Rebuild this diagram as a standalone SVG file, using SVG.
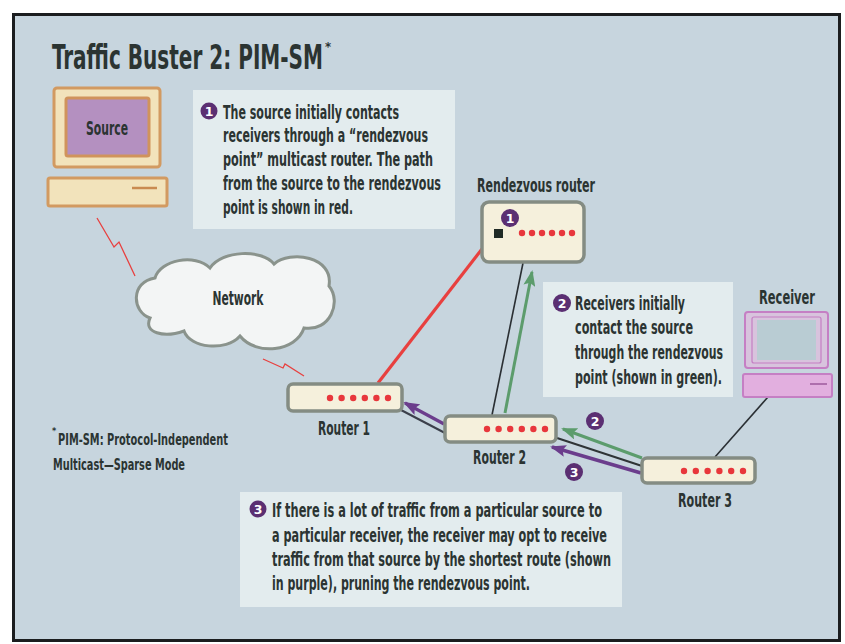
<svg xmlns="http://www.w3.org/2000/svg" width="845" height="644" viewBox="0 0 845 644">
  <defs>
    <style>
      .t { font-family: "DejaVu Sans Condensed", "DejaVu Sans", "Liberation Sans", sans-serif; font-stretch: condensed; font-weight: bold; fill: #2b3432; }
      .body { font-size: 19.5px; }
      .lbl { font-size: 19px; }
      .foot { font-size: 15.5px; }
      .note { fill: #e3ecee; }
      .router { fill: #f5f0dc; stroke: #848c83; stroke-width: 3.5; }
      .dot { fill: #e8373c; }
      .num { fill: #5b2f72; }
      .numtxt { font-family: "DejaVu Sans", "Liberation Sans", sans-serif; font-weight: bold; font-size: 12.5px; fill: #ffffff; text-anchor: middle; }
      .bolt { fill: none; stroke: #e8403f; stroke-width: 1.3; stroke-linejoin: miter; }
      .wire { fill: none; stroke: #2a2f33; stroke-width: 1.6; }
    </style>
    <marker id="headGreen" markerUnits="userSpaceOnUse" markerWidth="16" markerHeight="12" refX="14" refY="6" orient="auto">
      <path d="M0,0 L16,6 L0,12 L3,6 Z" fill="#5c9c6c"/>
    </marker>
    <marker id="headPurple" markerUnits="userSpaceOnUse" markerWidth="16" markerHeight="12" refX="14" refY="6" orient="auto">
      <path d="M0,0 L16,6 L0,12 L3,6 Z" fill="#6b3d8c"/>
    </marker>
  </defs>

  <!-- page and frame -->
  <rect x="0" y="0" width="845" height="644" fill="#ffffff"/>
  <rect x="13.5" y="14.5" width="826" height="626" fill="#c7d5de" stroke="#1b1d1f" stroke-width="3"/>

  <!-- title with footnote mark -->
  <text class="t" x="52" y="69" font-size="34" fill="#3a403f" textLength="271" lengthAdjust="spacingAndGlyphs">Traffic Buster 2: PIM-SM</text>
  <text class="t" x="325" y="51" font-size="13" fill="#3a403f">*</text>

  <!-- connectors -->
  <g id="connectors">
    <path class="bolt" d="M97,218 L114,247 L119,242 L135,276"/>
    <path class="bolt" d="M263,359 L283,368 L285,364 L304,376"/>
    <line x1="482" y1="249" x2="378" y2="383" stroke="#e8403f" stroke-width="3.2"/>
    <line class="wire" x1="523" y1="263" x2="492" y2="415"/>
    <line x1="505" y1="413" x2="532" y2="272" stroke="#5c9c6c" stroke-width="3" marker-end="url(#headGreen)"/>
    <line x1="401" y1="410" x2="445" y2="433" stroke="#3b3f4a" stroke-width="2"/>
    <line x1="444" y1="424" x2="405" y2="403" stroke="#6b3d8c" stroke-width="3.2" marker-end="url(#headPurple)"/>
    <line x1="557" y1="438" x2="642" y2="466" stroke="#2f3436" stroke-width="2"/>
    <line x1="642" y1="458" x2="563" y2="429" stroke="#5c9c6c" stroke-width="3" marker-end="url(#headGreen)"/>
    <line x1="641" y1="473" x2="552" y2="447" stroke="#6b3d8c" stroke-width="3.4" marker-end="url(#headPurple)"/>
    <line class="wire" x1="768" y1="397" x2="715" y2="457"/>
  </g>

  <!-- source computer -->
  <g id="source">
    <rect x="54" y="88" width="106" height="79" rx="3" fill="#f2e3bb" stroke="#d29a61" stroke-width="3"/>
    <rect x="66" y="98" width="83" height="58" rx="2" fill="#b490c0" stroke="#d0935c" stroke-width="3"/>
    <text class="t lbl" x="107" y="135" text-anchor="middle" textLength="42" lengthAdjust="spacingAndGlyphs">Source</text>
    <rect x="48" y="178" width="119" height="28" rx="2" fill="#f2e3bb" stroke="#d29a61" stroke-width="3"/>
    <line x1="132" y1="188" x2="157" y2="188" stroke="#c98a50" stroke-width="2.5"/>
  </g>

  <!-- network cloud -->
  <g id="network">
    <path d="M150,318 C132,312 130,282 155,278 C160,260 195,253 210,268 C222,250 262,249 274,264 C290,250 334,256 329,286 C342,302 330,332 304,328 C296,352 256,356 240,336 C226,352 190,348 184,331 C164,338 143,333 150,318 Z" fill="#f3f5f5" stroke="#8a938c" stroke-width="3"/>
    <text class="t lbl" x="238" y="305" text-anchor="middle" textLength="51" lengthAdjust="spacingAndGlyphs">Network</text>
  </g>

  <!-- note 1 -->
  <g id="note1">
    <rect class="note" x="193" y="90" width="262" height="139"/>
    <circle class="num" cx="209" cy="111" r="8.5"/>
    <text class="numtxt" x="209" y="115.5">1</text>
    <text class="t body" x="223" y="119" textLength="176" lengthAdjust="spacingAndGlyphs">The source initially contacts</text>
    <text class="t body" x="223" y="142" textLength="205" lengthAdjust="spacingAndGlyphs">receivers through a “rendezvous</text>
    <text class="t body" x="223" y="166" textLength="210" lengthAdjust="spacingAndGlyphs">point” multicast router. The path</text>
    <text class="t body" x="223" y="190" textLength="218" lengthAdjust="spacingAndGlyphs">from the source to the rendezvous</text>
    <text class="t body" x="223" y="214" textLength="130" lengthAdjust="spacingAndGlyphs">point is shown in red.</text>
  </g>

  <!-- rendezvous router -->
  <g id="rendezvous">
    <text class="t lbl" x="477" y="192" textLength="118" lengthAdjust="spacingAndGlyphs">Rendezvous router</text>
    <rect class="router" x="482" y="202" width="102" height="60" rx="7"/>
    <circle class="num" cx="510" cy="218" r="9"/>
    <text class="numtxt" x="510" y="222.5">1</text>
    <rect x="494" y="229" width="9" height="9" fill="#1f2a25"/>
    <circle class="dot" cx="522" cy="233" r="3.2"/>
    <circle class="dot" cx="532" cy="233" r="3.2"/>
    <circle class="dot" cx="542" cy="233" r="3.2"/>
    <circle class="dot" cx="552" cy="233" r="3.2"/>
    <circle class="dot" cx="562" cy="233" r="3.2"/>
    <circle class="dot" cx="572" cy="233" r="3.2"/>
  </g>

  <!-- note 2 -->
  <g id="note2">
    <rect class="note" x="543" y="282" width="190" height="115"/>
    <circle class="num" cx="562" cy="303" r="9"/>
    <text class="numtxt" x="562" y="307.5">2</text>
    <text class="t body" x="575" y="310" textLength="110" lengthAdjust="spacingAndGlyphs">Receivers initially</text>
    <text class="t body" x="575" y="334" textLength="118" lengthAdjust="spacingAndGlyphs">contact the source</text>
    <text class="t body" x="575" y="359" textLength="148" lengthAdjust="spacingAndGlyphs">through the rendezvous</text>
    <text class="t body" x="575" y="384" textLength="147" lengthAdjust="spacingAndGlyphs">point (shown in green).</text>
  </g>

  <!-- receiver computer -->
  <g id="receiver">
    <text class="t lbl" x="787" y="304" text-anchor="middle" textLength="56" lengthAdjust="spacingAndGlyphs">Receiver</text>
    <rect x="745" y="312" width="83" height="56" rx="3" fill="#d8c3dd" stroke="#c57fc4" stroke-width="2"/>
    <rect x="752" y="317" width="69" height="46" rx="2" fill="none" stroke="#c57fc4" stroke-width="1.2"/>
    <rect x="757" y="320" width="59" height="40" fill="#b9ccd3"/>
    <rect x="743" y="374" width="89" height="23" rx="2" fill="#e2afdf" stroke="#c57fc4" stroke-width="2"/>
    <line x1="810" y1="384" x2="827" y2="384" stroke="#9c5a9c" stroke-width="1.5"/>
  </g>

  <!-- router 1 -->
  <g id="router1">
    <rect class="router" x="288" y="384" width="114" height="27" rx="5"/>
    <circle class="dot" cx="330" cy="398" r="3.2"/>
    <circle class="dot" cx="341.6" cy="398" r="3.2"/>
    <circle class="dot" cx="353.2" cy="398" r="3.2"/>
    <circle class="dot" cx="364.8" cy="398" r="3.2"/>
    <circle class="dot" cx="376.4" cy="398" r="3.2"/>
    <circle class="dot" cx="388" cy="398" r="3.2"/>
    <text class="t lbl" x="344" y="435" text-anchor="middle" textLength="52" lengthAdjust="spacingAndGlyphs">Router 1</text>
  </g>

  <!-- router 2 -->
  <g id="router2">
    <rect class="router" x="445" y="416" width="111" height="26" rx="5"/>
    <circle class="dot" cx="487" cy="429" r="3.2"/>
    <circle class="dot" cx="498.6" cy="429" r="3.2"/>
    <circle class="dot" cx="510.2" cy="429" r="3.2"/>
    <circle class="dot" cx="521.8" cy="429" r="3.2"/>
    <circle class="dot" cx="533.4" cy="429" r="3.2"/>
    <circle class="dot" cx="545" cy="429" r="3.2"/>
    <text class="t lbl" x="499.5" y="464" text-anchor="middle" textLength="53" lengthAdjust="spacingAndGlyphs">Router 2</text>
  </g>

  <!-- router 3 -->
  <g id="router3">
    <rect class="router" x="642" y="458" width="113" height="25" rx="5"/>
    <circle class="dot" cx="684" cy="471" r="3.2"/>
    <circle class="dot" cx="695.8" cy="471" r="3.2"/>
    <circle class="dot" cx="707.6" cy="471" r="3.2"/>
    <circle class="dot" cx="719.4" cy="471" r="3.2"/>
    <circle class="dot" cx="731.2" cy="471" r="3.2"/>
    <circle class="dot" cx="743" cy="471" r="3.2"/>
    <text class="t lbl" x="705" y="507" text-anchor="middle" textLength="54" lengthAdjust="spacingAndGlyphs">Router 3</text>
  </g>

  <!-- step markers on the router links -->
  <g id="step2">
    <circle class="num" cx="595" cy="421" r="9"/>
    <text class="numtxt" x="595" y="425.5">2</text>
  </g>
  <g id="step3">
    <circle class="num" cx="574" cy="472" r="9"/>
    <text class="numtxt" x="574" y="476.5">3</text>
  </g>

  <!-- note 3 -->
  <g id="note3">
    <rect class="note" x="240" y="492" width="382" height="115"/>
    <circle class="num" cx="258" cy="509" r="8.5"/>
    <text class="numtxt" x="258" y="513.5">3</text>
    <text class="t body" x="272" y="517" textLength="330" lengthAdjust="spacingAndGlyphs">If there is a lot of traffic from a particular source to</text>
    <text class="t body" x="272" y="542" textLength="335" lengthAdjust="spacingAndGlyphs">a particular receiver, the receiver may opt to receive</text>
    <text class="t body" x="272" y="566" textLength="339" lengthAdjust="spacingAndGlyphs">traffic from that source by the shortest route (shown</text>
    <text class="t body" x="272" y="590" textLength="258" lengthAdjust="spacingAndGlyphs">in purple), pruning the rendezvous point.</text>
  </g>

  <!-- footnote -->
  <g id="footnote">
    <text class="t" x="52" y="434" font-size="9">*</text>
    <text class="t foot" x="58" y="445" textLength="170" lengthAdjust="spacingAndGlyphs">PIM-SM: Protocol-Independent</text>
    <text class="t foot" x="53" y="470" textLength="132" lengthAdjust="spacingAndGlyphs">Multicast—Sparse Mode</text>
  </g>
</svg>
